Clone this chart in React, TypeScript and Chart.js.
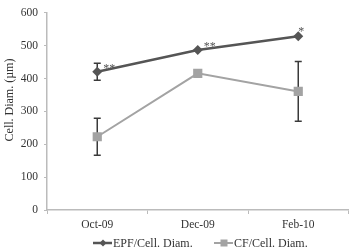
import React, { useEffect, useRef } from "react";
import { Chart, registerables } from "chart.js";

Chart.register(...registerables);

const months = ["Oct-09", "Dec-09", "Feb-10"];
const epfDiam = [421, 487, 529];
const epfErr = [26, 0, 0];
const cfDiam = [223, 416, 361];
const cfErr = [56, 0, 91];
const epfMarks = ["**", "**", "*"];
const yTicks = [0, 100, 200, 300, 400, 500, 600];
const seriesNames = ["EPF/Cell. Diam.", "CF/Cell. Diam."];
const yTitle = "Cell. Diam. (µm)";

const SERIF = '"Liberation Serif", "Times New Roman", serif';
const EPF_COLOR = "#555555";
const CF_COLOR = "#a3a3a3";

const extras = {
  id: "extras",
  beforeDatasetsDraw(chart: any) {
    const { ctx } = chart;
    const y = chart.scales.y;
    const errs = [epfErr, cfErr];
    ctx.save();
    ctx.strokeStyle = "#3a3a3a";
    ctx.lineWidth = 1.5;
    errs.forEach((arr, di) => {
      const meta = chart.getDatasetMeta(di);
      arr.forEach((e, i) => {
        if (!e) return;
        const v = chart.data.datasets[di].data[i] as number;
        const px = meta.data[i].x;
        const top = y.getPixelForValue(v + e);
        const bot = y.getPixelForValue(v - e);
        ctx.beginPath();
        ctx.moveTo(px, top);
        ctx.lineTo(px, bot);
        ctx.moveTo(px - 3.5, top);
        ctx.lineTo(px + 3.5, top);
        ctx.moveTo(px - 3.5, bot);
        ctx.lineTo(px + 3.5, bot);
        ctx.stroke();
      });
    });
    ctx.restore();
  },
  afterDatasetsDraw(chart: any) {
    const { ctx } = chart;
    const meta = chart.getDatasetMeta(0);
    ctx.save();
    ctx.fillStyle = EPF_COLOR;
    ctx.font = `12px ${SERIF}`;
    ctx.textBaseline = "middle";
    ctx.textAlign = "left";
    epfMarks.forEach((m, i) => {
      const p = meta.data[i];
      const dx = m.length > 1 ? 6 : 0;
      const dy = m.length > 1 ? -3 : -4;
      ctx.fillText(m, p.x + dx, p.y + dy);
    });
    ctx.restore();
  },
  afterDraw(chart: any) {
    const { ctx } = chart;
    ctx.save();
    // axis title
    ctx.fillStyle = "#333";
    ctx.font = `12px ${SERIF}`;
    ctx.textAlign = "center";
    ctx.textBaseline = "middle";
    ctx.translate(10, 100);
    ctx.rotate(-Math.PI / 2);
    ctx.fillText(yTitle, 0, 0);
    ctx.restore();

    // legend
    const ly = 243;
    const items = [
      { x: 93, color: EPF_COLOR, style: "diamond", width: 2.5 },
      { x: 214, color: CF_COLOR, style: "square", width: 2 },
    ];
    ctx.save();
    ctx.font = `12px ${SERIF}`;
    ctx.textBaseline = "middle";
    ctx.textAlign = "left";
    items.forEach((it, i) => {
      ctx.strokeStyle = it.color;
      ctx.fillStyle = it.color;
      ctx.lineWidth = it.width;
      ctx.beginPath();
      ctx.moveTo(it.x, ly);
      ctx.lineTo(it.x + 19, ly);
      ctx.stroke();
      const cx = it.x + 10;
      ctx.beginPath();
      if (it.style === "diamond") {
        ctx.moveTo(cx, ly - 3.5);
        ctx.lineTo(cx + 3.5, ly);
        ctx.lineTo(cx, ly + 3.5);
        ctx.lineTo(cx - 3.5, ly);
        ctx.closePath();
      } else {
        ctx.rect(cx - 3.5, ly - 3.5, 7, 7);
      }
      ctx.fill();
      ctx.fillStyle = "#333";
      ctx.fillText(seriesNames[i], it.x + 20, ly + 0.5);
    });
    ctx.restore();
  },
};

export default function App() {
  const ref = useRef<HTMLCanvasElement>(null);

  useEffect(() => {
    document.body.style.margin = "0";
    Chart.defaults.font.family = SERIF;
    const chart = new Chart(ref.current!, {
      type: "line",
      data: {
        labels: months,
        datasets: [
          {
            label: seriesNames[0],
            data: epfDiam,
            borderColor: EPF_COLOR,
            backgroundColor: EPF_COLOR,
            borderWidth: 2.5,
            pointStyle: "rectRot",
            pointRadius: 5,
            pointBorderWidth: 0,
          },
          {
            label: seriesNames[1],
            data: cfDiam,
            borderColor: CF_COLOR,
            backgroundColor: CF_COLOR,
            borderWidth: 2,
            pointStyle: "rect",
            pointRadius: 6.5,
            pointBorderWidth: 0,
          },
        ],
      },
      options: {
        animation: false,
        responsive: true,
        maintainAspectRatio: false,
        layout: { padding: { top: 10, left: 0, right: 0, bottom: 0 } },
        plugins: {
          legend: { display: false },
          tooltip: { enabled: false },
        },
        scales: {
          x: {
            offset: true,
            afterFit: (s: any) => {
              s.height = 40;
            },
            grid: {
              offset: true,
              drawOnChartArea: false,
              drawTicks: true,
              tickLength: 4,
              color: "#bbbbbb",
            },
            border: { color: "#bbbbbb", width: 1.5 },
            ticks: {
              color: "#333",
              font: { size: 11.5, family: SERIF },
              padding: 4,
            },
          },
          y: {
            min: 0,
            max: 600,
            afterFit: (s: any) => {
              s.width = 47;
            },
            afterBuildTicks: (s: any) => {
              s.ticks = yTicks.map((v) => ({ value: v }));
            },
            grid: {
              drawOnChartArea: false,
              drawTicks: true,
              tickLength: 3,
              color: "#bbbbbb",
            },
            border: { color: "#bbbbbb", width: 1.5 },
            ticks: {
              color: "#333",
              font: { size: 11.5, family: SERIF },
              padding: 6,
            },
          },
        },
      },
      plugins: [extras],
    });
    return () => chart.destroy();
  }, []);

  return (
    <div style={{ width: 355, height: 250, position: "relative" }}>
      <canvas ref={ref} />
    </div>
  );
}
